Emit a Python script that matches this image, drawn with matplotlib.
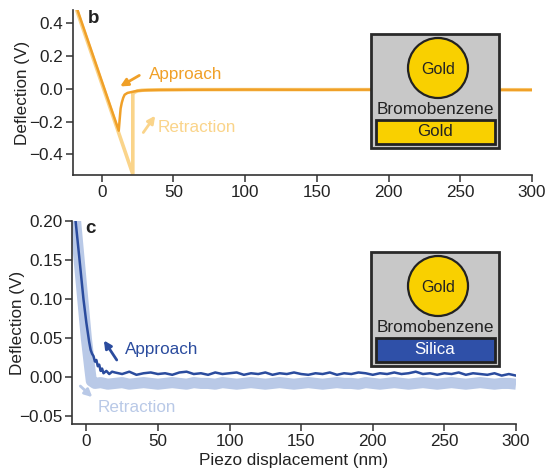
import matplotlib
matplotlib.use("Agg")
import matplotlib.pyplot as plt
from matplotlib.patches import Rectangle, Circle

plt.rcParams['font.family'] = ['Liberation Sans', 'DejaVu Sans']

# ---- panel b: gold tip over gold surface ----
app_b_x = [-20, 11.9, 12.5, 13.2, 14, 15, 16, 18, 21.6, 25, 30, 40, 60, 100, 150, 200, 250, 300]
app_b_y = [0.56, -0.255, -0.19, -0.12, -0.085, -0.055, -0.036, -0.025, -0.018, -0.012,
           -0.009, -0.007, -0.006, -0.005, -0.006, -0.005, -0.006, -0.007]
ret_b_x = [-20, 21.7, 21.7, 23, 25, 28, 32, 40, 60, 100, 150, 200, 250, 300]
ret_b_y = [0.545, -0.52, -0.03, -0.02, -0.013, -0.009, -0.007, -0.006, -0.005,
           -0.005, -0.005, -0.005, -0.005, -0.006]

# ---- panel c: gold tip over silica surface ----
app_c_x = [-7.5, -5, -2, 0, 2, 3, 4, 5, 6, 7, 8, 9, 10, 11, 12, 14, 16, 18,
           20, 25, 30, 35, 40, 45, 50, 55, 60, 65, 70, 75, 80, 85, 90, 95, 100,
           105, 110, 115, 120, 125, 130, 135, 140, 145, 150, 155, 160, 165, 170,
           175, 180, 185, 190, 195, 200, 205, 210, 215, 220, 225, 230, 235, 240,
           245, 250, 255, 260, 265, 270, 275, 280, 285, 290, 295, 300]
app_c_y = [0.20, 0.155, 0.10, 0.07, 0.045, 0.035, 0.03, 0.027, 0.02, 0.022, 0.014,
           0.016, 0.008, 0.011, 0.005, 0.008, 0.004, 0.007,
           0.006, 0.004, 0.007, 0.003, 0.005, 0.006, 0.004, 0.005, 0.003, 0.006,
           0.007, 0.004, 0.005, 0.003, 0.006, 0.004, 0.005, 0.006, 0.003, 0.005,
           0.004, 0.006, 0.003, 0.005, 0.004, 0.006, 0.004, 0.003, 0.005, 0.004,
           0.006, 0.003, 0.005, 0.004, 0.006, 0.005, 0.003, 0.005, 0.004, 0.006,
           0.004, 0.005, 0.007, 0.004, 0.005, 0.003, 0.005, 0.004, 0.006, 0.003,
           0.005, 0.004, 0.003, 0.005, 0.002, 0.004, 0.002]
ret_c_x = [-7.5, -4, 0, 2.5, 3.5, 6, 10, 15, 20, 25, 30, 35, 40, 45, 50, 55, 60,
           65, 70, 75, 80, 85, 90, 95, 100, 105, 110, 115, 120, 125, 130, 135, 140,
           145, 150, 155, 160, 165, 170, 175, 180, 185, 190, 195, 200, 205, 210,
           215, 220, 225, 230, 235, 240, 245, 250, 255, 260, 265, 270, 275, 280,
           285, 290, 295, 300]
ret_c_y = [0.20, 0.13, 0.05, 0.01, -0.005, -0.008, -0.007, -0.009, -0.008, -0.007,
           -0.009, -0.008, -0.007, -0.008, -0.009, -0.008, -0.007, -0.008, -0.009,
           -0.007, -0.008, -0.008, -0.009, -0.007, -0.008, -0.009, -0.008, -0.007,
           -0.008, -0.009, -0.008, -0.007, -0.008, -0.009, -0.008, -0.007, -0.008,
           -0.009, -0.008, -0.007, -0.008, -0.008, -0.009, -0.007, -0.008, -0.009,
           -0.008, -0.007, -0.008, -0.009, -0.008, -0.007, -0.008, -0.009, -0.008,
           -0.007, -0.008, -0.009, -0.008, -0.007, -0.008, -0.009, -0.008, -0.008,
           -0.009]

xticks = [0, 50, 100, 150, 200, 250, 300]
b_yticks = [-0.4, -0.2, 0.0, 0.2, 0.4]
c_yticks = [-0.05, 0.00, 0.05, 0.10, 0.15, 0.20]

ORANGE = '#f0a028'
LIGHT_ORANGE = '#fad48a'
BLUE = '#2b4c9e'
LIGHT_BLUE = '#b9c9e7'
GOLD = '#f9d000'
GREY = '#c8c8c8'
INK = '#222222'
FS = 12.3

W, H = 549, 475
fig = plt.figure(figsize=(W / 100, H / 100), dpi=100)


def px_axes(x0, y0, x1, y1):
    # axes rectangle given in pixel coords, y measured from top
    return fig.add_axes([x0 / W, 1 - y1 / H, (x1 - x0) / W, (y1 - y0) / H])


def style(ax):
    for s in ['top', 'right']:
        ax.spines[s].set_visible(False)
    for s in ['left', 'bottom']:
        ax.spines[s].set_color('#333333')
        ax.spines[s].set_linewidth(1.2)
    ax.tick_params(direction='out', length=5, width=1.1, color='#333333',
                   labelsize=FS, labelcolor=INK, pad=2)


def inset(x0, y0, substrate, sub_color, sub_text):
    ia = px_axes(x0, y0, x0 + 128, y0 + 114)
    ia.set_xlim(0, 128)
    ia.set_ylim(114, 0)
    ia.axis('off')
    ia.add_patch(Rectangle((0, 0), 128, 114, facecolor=GREY, edgecolor='#2a2a2a',
                           lw=2, clip_on=False))
    ia.add_patch(Circle((67, 34), 30, facecolor=GOLD, edgecolor='#222222', lw=1.6))
    ia.text(67, 35, 'Gold', ha='center', va='center', fontsize=11.5, color=INK)
    ia.text(64, 76, 'Bromobenzene', ha='center', va='center', fontsize=12.4, color=INK)
    ia.add_patch(Rectangle((5, 86), 119, 24, facecolor=sub_color, edgecolor='#222222',
                           lw=2))
    ia.text(64, 98, substrate, ha='center', va='center', fontsize=12.2, color=sub_text)


# panel b
ax1 = px_axes(73, 10, 532, 175)
ax1.plot(ret_b_x, ret_b_y, color=LIGHT_ORANGE, lw=2.6, solid_joinstyle='miter')
ax1.plot(app_b_x, app_b_y, color=ORANGE, lw=1.8)
ax1.set_xlim(-20, 300)
ax1.set_ylim(-0.525, 0.48)
ax1.set_xticks(xticks)
ax1.set_yticks(b_yticks)
ax1.set_yticklabels(['\u22120.4', '\u22120.2', '0.0', '0.2', '0.4'])
ax1.set_ylabel('Deflection (V)', fontsize=FS, color=INK)
ax1.yaxis.set_label_coords(-0.094, 0.5)
style(ax1)
ax1.text(-6, 0.43, 'b', fontsize=13.5, fontweight='bold', ha='center', va='center', color=INK)
ax1.annotate('', xy=(11.2, 0.006), xytext=(27.9, 0.09),
             arrowprops=dict(arrowstyle='-|>', color=ORANGE, lw=2, mutation_scale=11))
ax1.text(33, 0.085, 'Approach', color=ORANGE, fontsize=FS, va='center')
ax1.annotate('', xy=(38.4, -0.15), xytext=(27.9, -0.28),
             arrowprops=dict(arrowstyle='-|>', color=LIGHT_ORANGE, lw=2, mutation_scale=11))
ax1.text(39, -0.236, 'Retraction', color=LIGHT_ORANGE, fontsize=FS, va='center')

# panel c
ax2 = px_axes(72, 221, 516, 424)
ax2.plot(app_c_x, app_c_y, color=BLUE, lw=1.8, zorder=2)
ax2.plot(ret_c_x, ret_c_y, color=LIGHT_BLUE, lw=8, solid_capstyle='butt', zorder=1)
ax2.set_xlim(-10, 300)
ax2.set_ylim(-0.06, 0.20)
ax2.set_xticks(xticks)
ax2.set_yticks(c_yticks)
ax2.set_yticklabels(['\u22120.05', '0.00', '0.05', '0.10', '0.15', '0.20'])
ax2.set_ylabel('Deflection (V)', fontsize=FS, color=INK)
ax2.yaxis.set_label_coords(-0.106, 0.5)
ax2.set_xlabel('Piezo displacement (nm)', fontsize=FS, color=INK, labelpad=3)
style(ax2)
ax2.text(2.8, 0.19, 'c', fontsize=13.5, fontweight='bold', ha='center', va='center', color=INK)
ax2.annotate('', xy=(11.2, 0.05), xytext=(22.3, 0.019),
             arrowprops=dict(arrowstyle='-|>', color=BLUE, lw=2, mutation_scale=11))
ax2.text(27.2, 0.036, 'Approach', color=BLUE, fontsize=FS, va='center')
ax2.annotate('', xy=(5.6, -0.028), xytext=(-5.6, -0.009),
             arrowprops=dict(arrowstyle='-|>', color=LIGHT_BLUE, lw=2, mutation_scale=11))
ax2.text(7.7, -0.039, 'Retraction', color=LIGHT_BLUE, fontsize=FS, va='center')

inset(371, 34, 'Gold', GOLD, INK)
inset(371, 252, 'Silica', '#2f50a8', 'white')

fig.savefig('out.png', dpi=100)
